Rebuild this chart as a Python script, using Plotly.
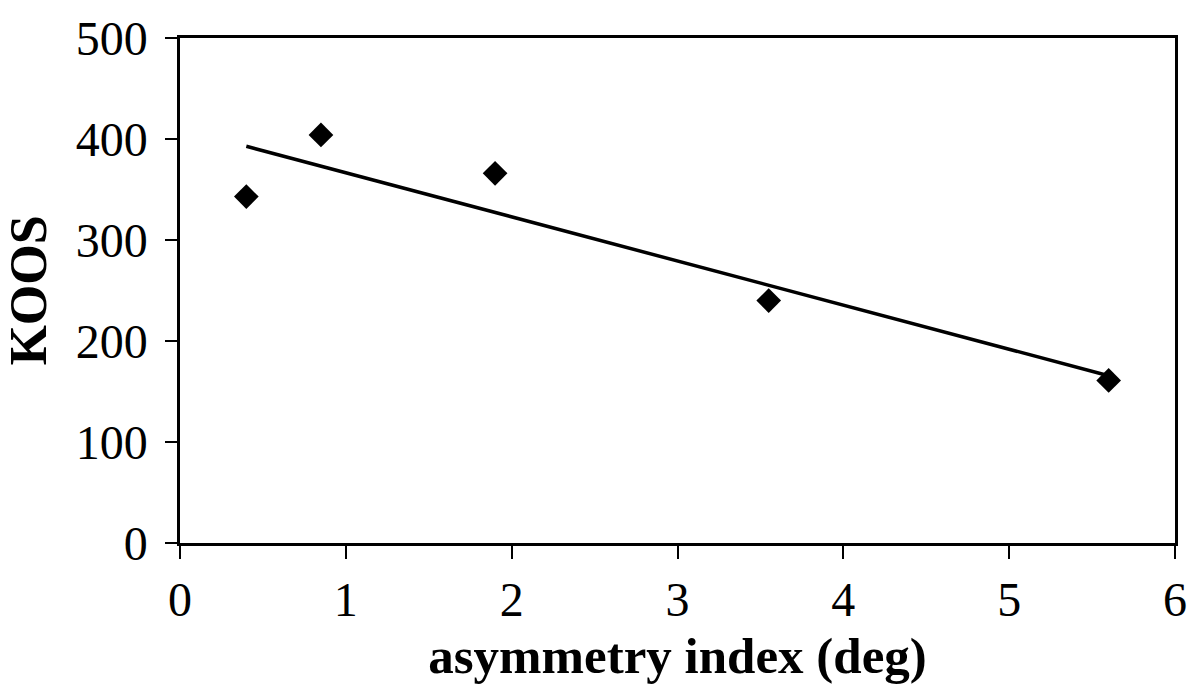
import numpy as np
import plotly.graph_objects as go

# Asymmetry index (deg) vs. KOOS score
asymmetry_deg = [0.40, 0.85, 1.90, 3.55, 5.60]
koos_score = [343, 404, 366, 240, 161]

x_ticks = [0, 1, 2, 3, 4, 5, 6]
y_ticks = [0, 100, 200, 300, 400, 500]

# Least-squares linear trend over the data span
slope, intercept = np.polyfit(asymmetry_deg, koos_score, 1)
trend_x = [min(asymmetry_deg), max(asymmetry_deg)]
trend_y = [slope * v + intercept for v in trend_x]

serif = "Liberation Serif, Times New Roman, serif"

fig = go.Figure()
fig.add_trace(go.Scatter(
    x=trend_x, y=trend_y, mode="lines",
    line=dict(color="black", width=3.5),
    showlegend=False, hoverinfo="skip",
))
fig.add_trace(go.Scatter(
    x=asymmetry_deg, y=koos_score, mode="markers",
    marker=dict(symbol="diamond", size=19, color="black"),
    showlegend=False,
))

fig.update_layout(
    width=1199, height=687,
    margin=dict(l=180, r=21, t=33, b=144),
    paper_bgcolor="white", plot_bgcolor="white",
    font=dict(family=serif, color="black"),
)
fig.update_xaxes(
    range=[0, 6], tickvals=x_ticks, ticktext=[str(v) for v in x_ticks],
    showgrid=False, zeroline=False,
    showline=True, linecolor="black", linewidth=2.5, mirror=True,
    ticks="outside", ticklen=13, tickwidth=1.5, tickcolor="black",
    tickfont=dict(size=48, family=serif),
    title=dict(text="<b>asymmetry index (deg)</b>",
               font=dict(size=51, family=serif), standoff=12),
)
fig.update_yaxes(
    range=[0, 500], tickvals=y_ticks, ticktext=[str(v) for v in y_ticks],
    showgrid=False, zeroline=False,
    showline=True, linecolor="black", linewidth=2.5, mirror=True,
    ticks="outside", ticklen=12, tickwidth=1.5, tickcolor="black",
    ticklabelstandoff=8,
    tickfont=dict(size=48, family=serif),
    title=dict(text="<b>KOOS</b>",
               font=dict(size=52, family=serif), standoff=16),
)

fig.write_html("out.html")
